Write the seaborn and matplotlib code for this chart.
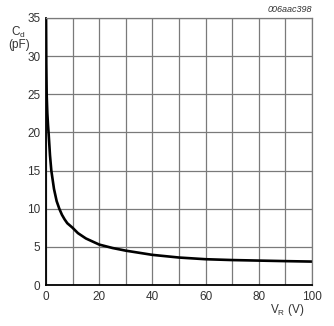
import matplotlib
matplotlib.use("Agg")
import matplotlib.pyplot as plt
import seaborn as sns
import pandas as pd

# Data
vr = [0, 0.1, 0.25, 0.5, 0.75, 1, 1.5, 2, 3, 4, 5, 6, 7, 8, 10, 12, 15, 20,
      25, 30, 40, 50, 60, 70, 80, 90, 100]
cd = [35.5, 29.0, 25.0, 22.5, 21.0, 19.8, 17.0, 15.0, 12.6, 11.0, 10.0, 9.2,
      8.6, 8.1, 7.5, 6.8, 6.1, 5.3, 4.85, 4.5, 3.95, 3.6, 3.38, 3.27, 3.2,
      3.13, 3.07]
x_ticks = [0, 20, 40, 60, 80, 100]
y_ticks = [0, 5, 10, 15, 20, 25, 30, 35]

sns.set_style("white")
plt.rcParams['font.family'] = ['Liberation Sans', 'DejaVu Sans']
plt.rcParams['mathtext.default'] = 'regular'

df = pd.DataFrame({"VR": vr, "Cd": cd})

fig = plt.figure(figsize=(3.34, 3.26), dpi=100)
ax = fig.add_axes([46/334, 41/326, 266/334, 267/326])

sns.lineplot(data=df, x="VR", y="Cd", ax=ax, color="black", linewidth=1.9)

ax.set_xlim(0, 100)
ax.set_ylim(0, 35)
ax.set_xticks(range(0, 101, 10), minor=False)
ax.set_yticks(range(0, 36, 5))
ax.set_xticklabels([str(v) if v in x_ticks else "" for v in range(0, 101, 10)])
ax.set_yticklabels([str(v) for v in y_ticks])
ax.grid(True, color="#7a7a7a", linewidth=0.9)
ax.tick_params(axis="both", length=0, labelsize=8.5, labelcolor="#333333", pad=4)
ax.set_xlabel("")
ax.set_ylabel("")

for side in ["top", "right"]:
    ax.spines[side].set_color("#7a7a7a")
    ax.spines[side].set_linewidth(0.9)
for side in ["left", "bottom"]:
    ax.spines[side].set_color("black")
    ax.spines[side].set_linewidth(1.3)

fig.text(18/334, 1 - 32/326, "C$_d$", ha="center", va="center",
         fontsize=8.5, color="#333333")
fig.text(19/334, 1 - 45/326, "(pF)", ha="center", va="center",
         fontsize=8.5, color="#333333")
fig.text(287/334, 1 - 310/326, "V$_R$ (V)", ha="center", va="center",
         fontsize=8.5, color="#333333")
fig.text(312/334, 1 - 9/326, "006aac398", ha="right", va="center",
         fontsize=6.5, style="italic", color="#333333")

fig.savefig("out.png", dpi=100)
